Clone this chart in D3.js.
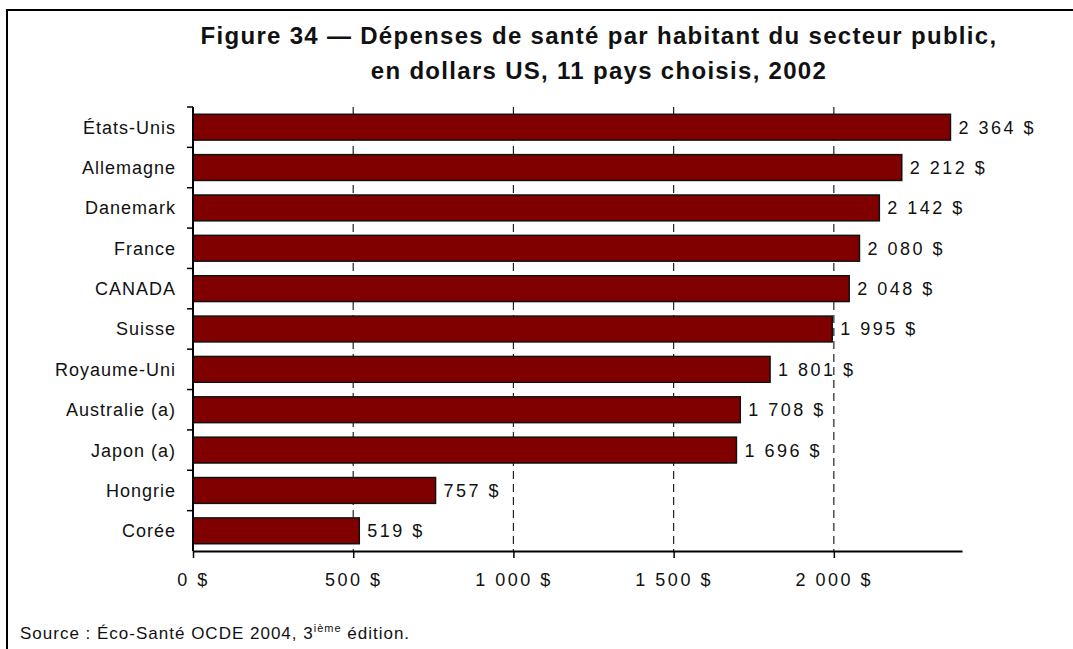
<!DOCTYPE html>
<html>
<head>
<meta charset="utf-8">
<script src="https://cdn.jsdelivr.net/npm/d3@7"></script>
<style>
  html, body { margin: 0; padding: 0; background: #fff; }
  svg { display: block; }
  text { font-family: "Liberation Sans", Arial, Helvetica, sans-serif; fill: #111; }
</style>
</head>
<body>
<svg id="chart" width="1073" height="649"></svg>
<script>
// Dépenses publiques de santé par habitant, 2002 (dollars US)
const countries = ["États-Unis", "Allemagne", "Danemark", "France", "CANADA", "Suisse",
                   "Royaume-Uni", "Australie (a)", "Japon (a)", "Hongrie", "Corée"];
const spending = [2364, 2212, 2142, 2080, 2048, 1995, 1801, 1708, 1696, 757, 519];
const xTicks = [0, 500, 1000, 1500, 2000];
const titleLines = ["Figure 34 — Dépenses de santé par habitant du secteur public,",
                    "en dollars US, 11 pays choisis, 2002"];
const sourceNote = { before: "Source : Éco-Santé OCDE 2004, 3", sup: "ième", after: " édition." };

const svg = d3.select("#chart");
const W = 1073, H = 649;
const margin = { left: 193, right: W - 962, top: 107, bottom: H - 551 };

// Cadre
svg.append("path")
  .attr("d", `M7,${H + 2}V10H${W + 2}`)
  .attr("fill", "none").attr("stroke", "#000").attr("stroke-width", 2);

const x = d3.scaleLinear().domain([0, 2400]).range([margin.left, W - margin.right]);
const y = d3.scaleBand().domain(countries).range([margin.top, H - margin.bottom])
  .paddingInner(0.36).paddingOuter(0.18);

// Grille verticale en tirets
svg.append("g")
  .selectAll("line").data(xTicks.filter(d => d > 0)).join("line")
  .attr("x1", d => x(d)).attr("x2", d => x(d))
  .attr("y1", margin.top).attr("y2", H - margin.bottom)
  .attr("stroke", "#222").attr("stroke-width", 1.2).attr("stroke-dasharray", "8,5");

// Barres
svg.append("g")
  .selectAll("rect").data(countries).join("rect")
  .attr("x", x(0))
  .attr("y", d => y(d))
  .attr("width", (d, i) => x(spending[i]) - x(0))
  .attr("height", y.bandwidth())
  .attr("fill", "#800000").attr("stroke", "#111").attr("stroke-width", 1.5);

const fmt = v => d3.format(",")(v).replace(/,/g, " ") + " $";

// Étiquettes de valeur
svg.append("g")
  .selectAll("text").data(countries).join("text")
  .attr("x", (d, i) => x(spending[i]) + 8)
  .attr("y", d => y(d) + y.bandwidth() / 2)
  .attr("dy", "0.36em")
  .style("font-size", "18px").style("letter-spacing", "2.5px")
  .text((d, i) => fmt(spending[i]));

// Axe horizontal
const xAxis = d3.axisBottom(x).tickValues(xTicks).tickSize(7).tickSizeOuter(0).tickFormat(fmt);
const gx = svg.append("g").attr("transform", `translate(0,${H - margin.bottom})`).call(xAxis);
gx.select(".domain").attr("stroke", "#000").attr("stroke-width", 2);
gx.selectAll(".tick line").attr("stroke", "#000").attr("stroke-width", 1.5);
gx.selectAll(".tick text")
  .attr("y", 22).attr("dy", "0.71em")
  .style("font-size", "18px").style("letter-spacing", "2.5px")
  .style("font-family", "Liberation Sans, Arial, sans-serif").attr("fill", "#111");

// Axe vertical : graduations aux limites des catégories
const yBounds = d3.range(countries.length + 1).map(i => margin.top + i * ((H - margin.bottom - margin.top) / countries.length));
const gy = svg.append("g");
gy.append("line")
  .attr("x1", x(0)).attr("x2", x(0)).attr("y1", margin.top).attr("y2", H - margin.bottom)
  .attr("stroke", "#000").attr("stroke-width", 2);
gy.selectAll("line.tk").data(yBounds.slice(0, -1)).join("line").attr("class", "tk")
  .attr("x1", x(0) - 6).attr("x2", x(0)).attr("y1", d => d).attr("y2", d => d)
  .attr("stroke", "#000").attr("stroke-width", 1.5);

// Noms des pays
svg.append("g")
  .selectAll("text").data(countries).join("text")
  .attr("x", 176)
  .attr("y", d => y(d) + y.bandwidth() / 2)
  .attr("dy", "0.36em")
  .attr("text-anchor", "end")
  .style("font-size", "18px").style("letter-spacing", "1px")
  .text(d => d);

// Titre
svg.append("g")
  .selectAll("text").data(titleLines).join("text")
  .attr("x", 599).attr("y", (d, i) => 44 + i * 35)
  .attr("text-anchor", "middle")
  .style("font-size", "24px").style("font-weight", "bold").style("letter-spacing", "1.3px")
  .text(d => d);

// Source
const src = svg.append("text").attr("x", 20).attr("y", 639)
  .style("font-size", "17px").style("letter-spacing", "1px");
src.append("tspan").text(sourceNote.before);
src.append("tspan").attr("dy", -7).style("font-size", "11px").text(sourceNote.sup);
src.append("tspan").attr("dy", 7).text(sourceNote.after);
</script>
</body>
</html>
